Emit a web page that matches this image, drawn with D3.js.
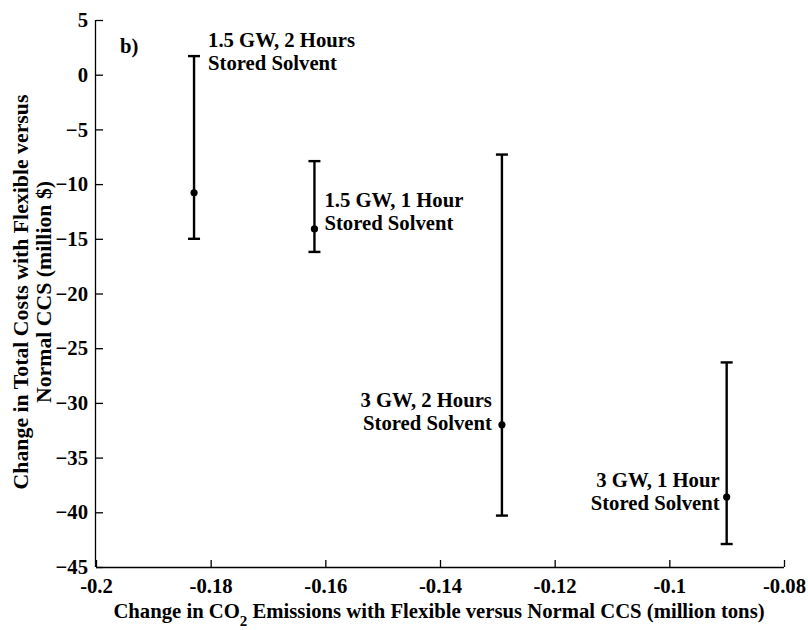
<!DOCTYPE html>
<meta charset="utf-8">
<body style="margin:0;background:#fff">
<div id="chart"></div>
<script src="https://cdn.jsdelivr.net/npm/d3@7"></script>
<script>
// values
var cases = ["1.5 GW, 2 Hours", "1.5 GW, 1 Hour", "3 GW, 2 Hours", "3 GW, 1 Hour"];
var co2 = [-0.1829, -0.1619, -0.1292, -0.0900];
var cost = [-10.8, -14.1, -32.0, -38.6];
var costHigh = [1.7, -7.9, -7.3, -26.3];
var costLow = [-15.0, -16.2, -40.3, -42.9];
var xTicks = [-0.2, -0.18, -0.16, -0.14, -0.12, -0.1, -0.08];
var yTicks = [5, 0, -5, -10, -15, -20, -25, -30, -35, -40, -45];

var width = 808, height = 630;
var margin = {top: 20, right: 24, bottom: 63, left: 96};

var svg = d3.select("#chart").append("svg")
  .attr("width", width)
  .attr("height", height);

var x = d3.scaleLinear().domain([-0.2, -0.08]).range([margin.left, width - margin.right]);
var y = d3.scaleLinear().domain([-45, 5]).range([height - margin.bottom, margin.top]);

function styleText(sel, size) {
  sel.attr("font-family", "Liberation Serif").attr("font-weight", "bold")
    .attr("font-size", size || 20.7).attr("fill", "#000");
}

// axes, ticks point inward
var gx = svg.append("g")
  .attr("transform", "translate(0," + (height - margin.bottom) + ")")
  .call(d3.axisBottom(x).tickValues(xTicks).tickSize(-7).tickPadding(12)
    .tickFormat(function (d) { return String(+d.toFixed(2)); }));
var gy = svg.append("g")
  .attr("transform", "translate(" + margin.left + ",0)")
  .call(d3.axisLeft(y).tickValues(yTicks).tickSize(-7).tickPadding(8).tickFormat(d3.format("d")));

[gx, gy].forEach(function (g) {
  g.attr("font-family", null).attr("font-size", null);
  g.selectAll("line").attr("stroke", "#000").attr("stroke-width", 1.3);
  g.select(".domain").attr("stroke", "#000").attr("stroke-width", 1.3);
  styleText(g.selectAll("text"));
});
gx.selectAll("text").attr("y", 26).attr("dy", null);
gx.select(".domain").attr("d", "M" + margin.left + ",0.5H" + (width - margin.right));
gy.select(".domain").attr("d", "M-0.5," + margin.top + "V" + (height - margin.bottom));

// axis titles
var xt = svg.append("text")
  .attr("x", 439)
  .attr("y", 618)
  .attr("text-anchor", "middle");
styleText(xt);
xt.append("tspan").text("Change in CO");
xt.append("tspan").attr("dy", 8).attr("font-size", 15).text("2");
xt.append("tspan").attr("dy", -8).text(" Emissions with Flexible versus Normal CCS (million tons)");

var yt = svg.append("text")
  .attr("transform", "translate(28,292) rotate(-90)")
  .attr("text-anchor", "middle");
styleText(yt, 21.8);
yt.append("tspan").attr("x", 0).attr("y", 0).text("Change in Total Costs with Flexible versus");
yt.append("tspan").attr("x", 0).attr("y", 23).text("Normal CCS (million $)");

styleText(svg.append("text").attr("x", 120).attr("y", 53).text("b)"));

// error bars
var pts = cases.map(function (c, i) {
  return {name: c, x: co2[i], y: cost[i], hi: costHigh[i], lo: costLow[i]};
});
var bars = svg.append("g").attr("stroke", "#000").attr("stroke-width", 2.4);
pts.forEach(function (d) {
  bars.append("line").attr("x1", x(d.x)).attr("x2", x(d.x)).attr("y1", y(d.hi)).attr("y2", y(d.lo));
  bars.append("line").attr("x1", x(d.x) - 6).attr("x2", x(d.x) + 6).attr("y1", y(d.hi)).attr("y2", y(d.hi));
  bars.append("line").attr("x1", x(d.x) - 6).attr("x2", x(d.x) + 6).attr("y1", y(d.lo)).attr("y2", y(d.lo));
});
svg.append("g").selectAll("circle").data(pts).enter().append("circle")
  .attr("cx", function (d) { return x(d.x); })
  .attr("cy", function (d) { return y(d.y); })
  .attr("r", 3.6)
  .attr("fill", "#000");

// point labels: offset from the point, first-line baseline offset from the point
var labelPos = [[14, -146, "start"], [10, -22, "start"], [-10, -18, "end"], [-7, -10, "end"]];
pts.forEach(function (d, i) {
  var p = labelPos[i];
  var t = svg.append("text")
    .attr("text-anchor", p[2])
    .attr("transform", "translate(" + (x(d.x) + p[0]) + "," + y(d.y) + ")");
  styleText(t);
  t.append("tspan").attr("x", 0).attr("y", p[1]).text(d.name);
  t.append("tspan").attr("x", 0).attr("y", p[1] + 23).text("Stored Solvent");
});
</script>
</body>
